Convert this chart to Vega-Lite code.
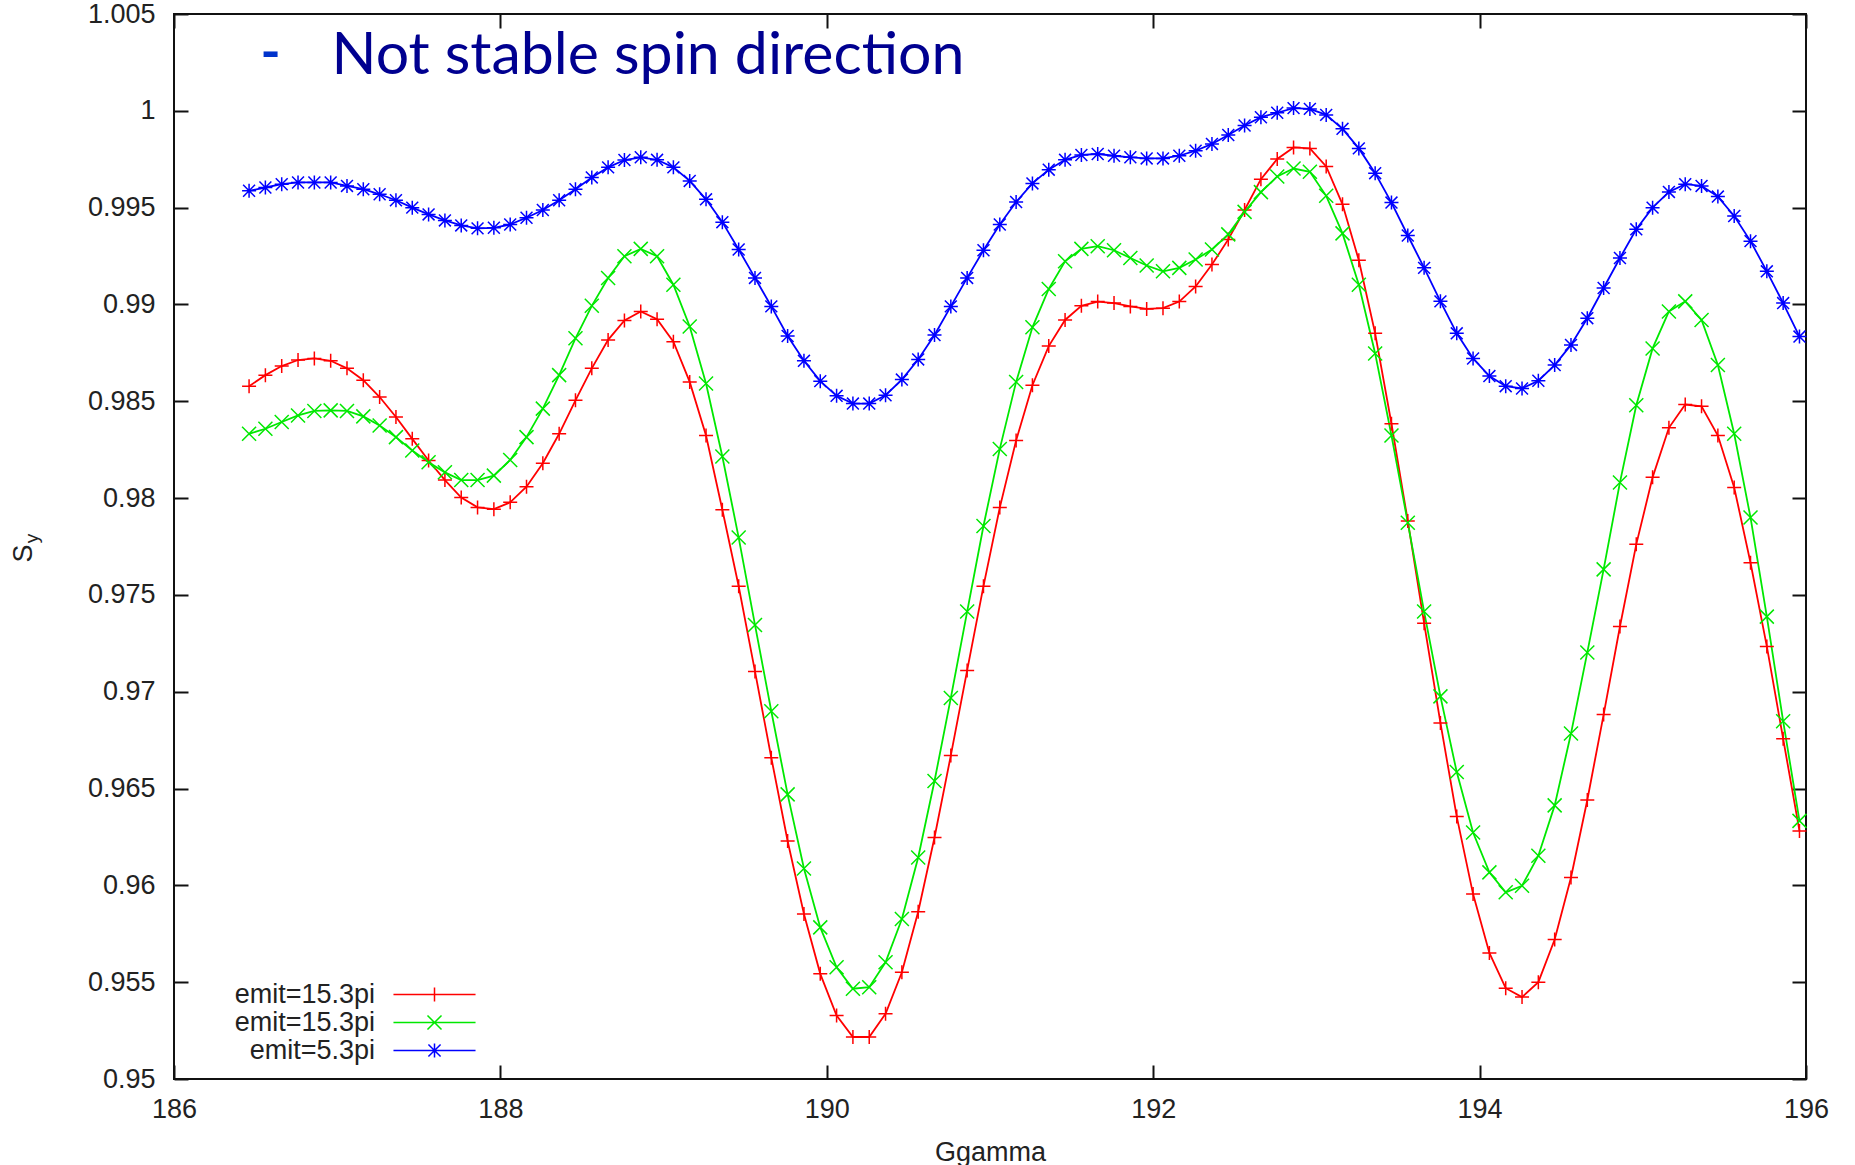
{
"$schema": "https://vega.github.io/schema/vega-lite/v6.json",
"width": 1632, "height": 1065,
"autosize": {"type": "none"},
"padding": {"left": 174, "top": 14, "right": 49, "bottom": 86},
"background": "white",
"config": {"view": {"stroke": "#111", "strokeWidth": 2}, "font": "Liberation Sans"},
"data": {"values": [
{"x":186.46,"r":0.98578,"g":0.98332,"b":0.99587},
{"x":186.56,"r":0.98635,"g":0.98358,"b":0.99604},
{"x":186.66,"r":0.98682,"g":0.98393,"b":0.99621},
{"x":186.76,"r":0.98713,"g":0.98427,"b":0.9963},
{"x":186.86,"r":0.98721,"g":0.9845,"b":0.9963},
{"x":186.96,"r":0.98709,"g":0.98453,"b":0.9963},
{"x":187.06,"r":0.9867,"g":0.9845,"b":0.99612},
{"x":187.16,"r":0.98609,"g":0.98422,"b":0.99595},
{"x":187.26,"r":0.98522,"g":0.98375,"b":0.99569},
{"x":187.36,"r":0.98419,"g":0.98315,"b":0.99538},
{"x":187.46,"r":0.98306,"g":0.98246,"b":0.995},
{"x":187.56,"r":0.98194,"g":0.98185,"b":0.99465},
{"x":187.66,"r":0.98093,"g":0.98133,"b":0.99434},
{"x":187.76,"r":0.98003,"g":0.98093,"b":0.99408},
{"x":187.86,"r":0.97952,"g":0.98093,"b":0.99393},
{"x":187.96,"r":0.97943,"g":0.98116,"b":0.99396},
{"x":188.06,"r":0.97978,"g":0.98197,"b":0.99413},
{"x":188.16,"r":0.98059,"g":0.98315,"b":0.99448},
{"x":188.26,"r":0.9818,"g":0.98462,"b":0.99488},
{"x":188.36,"r":0.98332,"g":0.98635,"b":0.99538},
{"x":188.46,"r":0.98505,"g":0.98825,"b":0.99595},
{"x":188.56,"r":0.9867,"g":0.98993,"b":0.99656},
{"x":188.66,"r":0.98817,"g":0.99137,"b":0.99708},
{"x":188.76,"r":0.98917,"g":0.99249,"b":0.99746},
{"x":188.86,"r":0.98964,"g":0.99287,"b":0.9976},
{"x":188.96,"r":0.98924,"g":0.99249,"b":0.99747},
{"x":189.06,"r":0.98808,"g":0.99102,"b":0.99708},
{"x":189.16,"r":0.986,"g":0.98886,"b":0.99638},
{"x":189.26,"r":0.98323,"g":0.98592,"b":0.99543},
{"x":189.36,"r":0.9794,"g":0.98215,"b":0.99425},
{"x":189.46,"r":0.97545,"g":0.97796,"b":0.99284},
{"x":189.56,"r":0.97105,"g":0.97345,"b":0.99137},
{"x":189.66,"r":0.96659,"g":0.96899,"b":0.9899},
{"x":189.76,"r":0.96229,"g":0.9647,"b":0.98837},
{"x":189.86,"r":0.95852,"g":0.96087,"b":0.98709},
{"x":189.96,"r":0.95543,"g":0.95783,"b":0.98604},
{"x":190.06,"r":0.95328,"g":0.95577,"b":0.98528},
{"x":190.16,"r":0.95217,"g":0.95466,"b":0.98488},
{"x":190.26,"r":0.95217,"g":0.95474,"b":0.98488},
{"x":190.36,"r":0.95337,"g":0.95603,"b":0.98531},
{"x":190.46,"r":0.95551,"g":0.95826,"b":0.98612},
{"x":190.56,"r":0.95864,"g":0.96144,"b":0.98716},
{"x":190.66,"r":0.96247,"g":0.96539,"b":0.98842},
{"x":190.76,"r":0.96671,"g":0.96968,"b":0.9899},
{"x":190.86,"r":0.9711,"g":0.97414,"b":0.99137},
{"x":190.96,"r":0.97545,"g":0.97856,"b":0.9928},
{"x":191.06,"r":0.97951,"g":0.98254,"b":0.99413},
{"x":191.16,"r":0.98297,"g":0.986,"b":0.99529},
{"x":191.26,"r":0.98583,"g":0.98882,"b":0.99625},
{"x":191.36,"r":0.98785,"g":0.9908,"b":0.99696},
{"x":191.46,"r":0.9892,"g":0.99223,"b":0.99747},
{"x":191.56,"r":0.98993,"g":0.99287,"b":0.99772},
{"x":191.66,"r":0.99015,"g":0.99301,"b":0.99777},
{"x":191.76,"r":0.99007,"g":0.9928,"b":0.99768},
{"x":191.86,"r":0.9899,"g":0.9924,"b":0.9976},
{"x":191.96,"r":0.98977,"g":0.99201,"b":0.99754},
{"x":192.06,"r":0.98981,"g":0.99171,"b":0.99754},
{"x":192.16,"r":0.99015,"g":0.99189,"b":0.99768},
{"x":192.26,"r":0.99093,"g":0.99232,"b":0.99794},
{"x":192.36,"r":0.99206,"g":0.99284,"b":0.99829},
{"x":192.46,"r":0.99336,"g":0.99362,"b":0.99875},
{"x":192.56,"r":0.99488,"g":0.99478,"b":0.99924},
{"x":192.66,"r":0.99647,"g":0.9958,"b":0.99967},
{"x":192.76,"r":0.99751,"g":0.99661,"b":0.9999},
{"x":192.86,"r":0.99811,"g":0.99702,"b":1.00014},
{"x":192.96,"r":0.99806,"g":0.99685,"b":1.0001},
{"x":193.06,"r":0.99713,"g":0.99561,"b":0.99979},
{"x":193.16,"r":0.99517,"g":0.99367,"b":0.99907},
{"x":193.26,"r":0.99228,"g":0.99102,"b":0.99806},
{"x":193.36,"r":0.98851,"g":0.98747,"b":0.99678},
{"x":193.46,"r":0.98384,"g":0.98323,"b":0.99526},
{"x":193.56,"r":0.97882,"g":0.97873,"b":0.99356},
{"x":193.66,"r":0.97354,"g":0.97414,"b":0.99189},
{"x":193.76,"r":0.96839,"g":0.96976,"b":0.99016},
{"x":193.86,"r":0.96355,"g":0.96585,"b":0.98851},
{"x":193.96,"r":0.95955,"g":0.96273,"b":0.98721},
{"x":194.06,"r":0.95651,"g":0.96067,"b":0.9863},
{"x":194.16,"r":0.95469,"g":0.95964,"b":0.98578},
{"x":194.26,"r":0.95423,"g":0.95998,"b":0.98566},
{"x":194.36,"r":0.955,"g":0.96153,"b":0.98606},
{"x":194.46,"r":0.9572,"g":0.96413,"b":0.98687},
{"x":194.56,"r":0.96041,"g":0.96784,"b":0.98791},
{"x":194.66,"r":0.96441,"g":0.97203,"b":0.98929},
{"x":194.76,"r":0.96882,"g":0.97632,"b":0.99085},
{"x":194.86,"r":0.97337,"g":0.98081,"b":0.9924},
{"x":194.96,"r":0.97761,"g":0.98479,"b":0.99388},
{"x":195.06,"r":0.98107,"g":0.98773,"b":0.995},
{"x":195.16,"r":0.98363,"g":0.98964,"b":0.99581},
{"x":195.26,"r":0.98483,"g":0.99016,"b":0.99621},
{"x":195.36,"r":0.98474,"g":0.9892,"b":0.99612},
{"x":195.46,"r":0.98323,"g":0.98687,"b":0.99557},
{"x":195.56,"r":0.98055,"g":0.98332,"b":0.99457},
{"x":195.66,"r":0.97666,"g":0.979,"b":0.99327},
{"x":195.76,"r":0.97234,"g":0.97388,"b":0.99171},
{"x":195.86,"r":0.96757,"g":0.96848,"b":0.99007},
{"x":195.96,"r":0.96281,"g":0.96333,"b":0.98834}
]},
"transform": [{"fold": ["r", "g", "b"], "as": ["s", "v"]}],
"layer": [
{
"mark": {"type": "line", "strokeWidth": 1.8},
"encoding": {
"x": {"field": "x", "type": "quantitative", "scale": {"domain": [186, 196], "nice": false, "zero": false},
 "axis": {"orient": "bottom", "values": [186, 188, 190, 192, 194, 196], "format": "d", "domain": false, "grid": false, "tickSize": -14, "tickWidth": 2, "tickColor": "#111", "labelPadding": 31, "labelFont": "Liberation Sans", "labelFontSize": 27, "labelColor": "#222", "labelFlush": false, "labelOverlap": false,
  "title": "Ggamma", "titleFont": "Liberation Sans", "titleFontSize": 27, "titleFontWeight": "normal", "titleColor": "#222", "titleX": 816, "titleY": 81, "titleAlign": "center", "titleBaseline": "alphabetic"}},
"y": {"field": "v", "type": "quantitative", "scale": {"domain": [0.95, 1.005], "nice": false, "zero": false},
 "axis": {"orient": "left", "values": [0.95, 0.955, 0.96, 0.965, 0.97, 0.975, 0.98, 0.985, 0.99, 0.995, 1, 1.005], "format": ".4~g", "domain": false, "grid": false, "tickSize": -14, "tickWidth": 2, "tickColor": "#111", "labelPadding": 33, "labelFont": "Liberation Sans", "labelFontSize": 27, "labelColor": "#222", "labelFlush": false, "labelOverlap": false,
  "title": "S", "titleFont": "Liberation Sans", "titleFontSize": 27, "titleFontWeight": "normal", "titleColor": "#222", "titleAngle": 270, "titleX": -143, "titleY": 539, "titleAlign": "center", "titleBaseline": "alphabetic"}},
"color": {"field": "s", "type": "nominal", "scale": {"domain": ["r", "g", "b"], "range": ["#FF0000", "#00E800", "#0000FF"]}, "legend": null}
}
},
{
"mark": {"type": "point", "filled": false, "size": 196, "strokeWidth": 1.5, "opacity": 1},
"encoding": {
"x": {"field": "x", "type": "quantitative", "scale": {"domain": [186, 196], "nice": false, "zero": false},
 "axis": {"orient": "top", "values": [186, 188, 190, 192, 194, 196], "labels": false, "domain": false, "grid": false, "tickSize": -14, "tickWidth": 2, "tickColor": "#111",
  "title": "Not stable spin direction", "titleFont": "Lato", "titleFontSize": 59, "titleFontWeight": "normal", "titleColor": "#000090", "titleAngle": 0, "titleX": 157, "titleY": 59, "titleAlign": "left", "titleBaseline": "alphabetic"}},
"y": {"field": "v", "type": "quantitative", "scale": {"domain": [0.95, 1.005], "nice": false, "zero": false},
 "axis": {"orient": "right", "values": [0.95, 0.955, 0.96, 0.965, 0.97, 0.975, 0.98, 0.985, 0.99, 0.995, 1, 1.005], "labels": false, "domain": false, "grid": false, "tickSize": -14, "tickWidth": 2, "tickColor": "#111",
  "title": "-", "titleFont": "Lato", "titleFontSize": 54, "titleFontWeight": "bold", "titleColor": "#0033CC", "titleAngle": 0, "titleX": -1536, "titleY": 55, "titleAlign": "center", "titleBaseline": "alphabetic"}},
"color": {"field": "s", "type": "nominal", "scale": {"domain": ["r", "g", "b"], "range": ["#FF0000", "#00E800", "#0000FF"]}, "legend": null},
"shape": {"field": "s", "type": "nominal", "scale": {"domain": ["r", "g", "b"], "range": ["M-1,0H1M0,-1V1", "M-1,-1L1,1M-1,1L1,-1", "M-1,0H1M0,-1V1M-0.85,-0.85L0.85,0.85M-0.85,0.85L0.85,-0.85"]}, "legend": null}
}
},
{
"transform": [{"filter": "false"}],
"mark": {"type": "point", "filled": false, "opacity": 1},
"encoding": {
"y": {"field": "v", "type": "quantitative", "scale": {"domain": [0.95, 1.005], "nice": false, "zero": false},
 "axis": {"orient": "left", "labels": false, "ticks": false, "domain": false, "grid": false,
  "title": "y", "titleFont": "Liberation Sans", "titleFontSize": 19, "titleFontWeight": "normal", "titleColor": "#222", "titleAngle": 270, "titleX": -137, "titleY": 524, "titleAlign": "center", "titleBaseline": "alphabetic"}},
"color": {"field": "s", "type": "nominal", "scale": {"domain": ["r", "g", "b"], "range": ["#FF0000", "#00E800", "#0000FF"]},
 "legend": {"orient": "none", "legendX": 246, "legendY": 966, "title": null, "padding": 0, "rowPadding": 0, "labelAlign": "right", "labelOffset": -74, "labelFont": "Liberation Sans", "labelFontSize": 27, "labelColor": "#222", "symbolSize": 729, "symbolStrokeWidth": 1.5, "symbolOpacity": 1, "labelExpr": "datum.value === 'b' ? 'emit=5.3pi' : 'emit=15.3pi'"}},
"shape": {"field": "s", "type": "nominal", "scale": {"domain": ["r", "g", "b"], "range": ["M-3.04,0H3.04M0,-0.52V0.52", "M-3.04,0H3.04M-0.52,-0.52L0.52,0.52M-0.52,0.52L0.52,-0.52", "M-3.04,0H3.04M0,-0.52V0.52M-0.45,-0.45L0.45,0.45M-0.45,0.45L0.45,-0.45"]},
 "legend": {"orient": "none", "legendX": 246, "legendY": 966, "title": null, "padding": 0, "rowPadding": 0, "labelAlign": "right", "labelOffset": -74, "labelFont": "Liberation Sans", "labelFontSize": 27, "labelColor": "#222", "symbolSize": 729, "symbolStrokeWidth": 1.5, "symbolOpacity": 1, "labelExpr": "datum.value === 'b' ? 'emit=5.3pi' : 'emit=15.3pi'"}}
}
}
],
"resolve": {"scale": {"color": "independent", "shape": "independent"}, "axis": {"x": "independent", "y": "independent"}}
}
